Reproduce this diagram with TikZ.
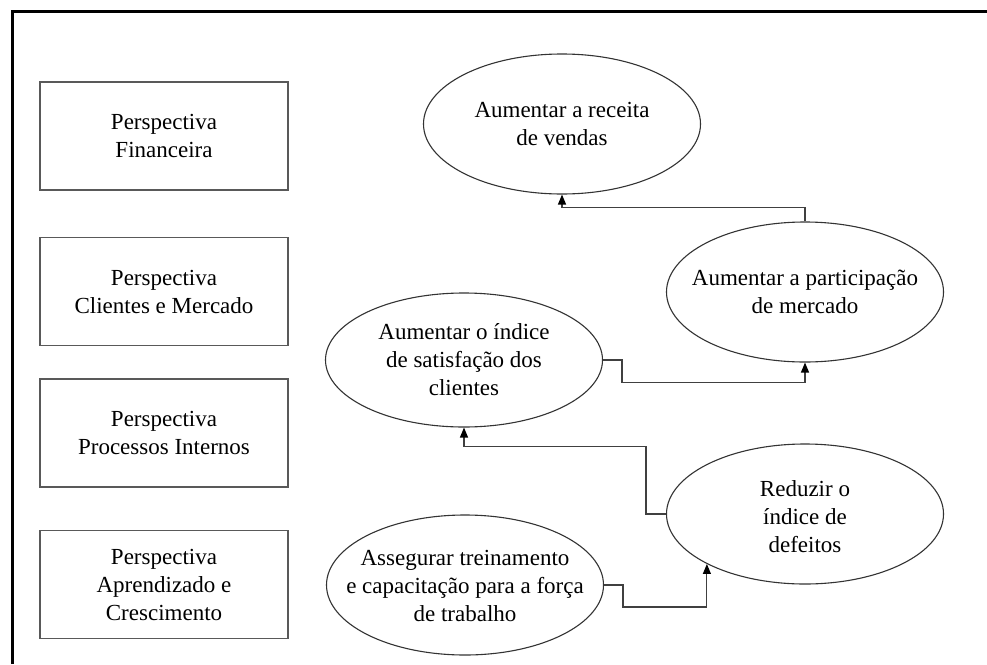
\documentclass[tikz,border=0pt]{standalone}
\usepackage{fontspec}
\setmainfont{Liberation Serif}
\usetikzlibrary{shapes.geometric,arrows.meta,calc}
\begin{document}
\begin{tikzpicture}[x=1pt,y=-1pt,
  persp/.style={draw=black!65, line width=1.2pt, minimum width=248pt, minimum height=108pt,
    inner sep=0pt, align=center, font=\fontsize{23}{28}\selectfont},
  goal/.style={draw=black!80, line width=1.1pt, ellipse, minimum width=277pt,
    minimum height=140pt, inner sep=0pt},
  goaltext/.style={align=center, inner sep=0pt, font=\fontsize{23}{28}\selectfont},
  link/.style={draw=black!75, line width=1.2pt, -{Triangle[length=10pt,width=8pt,color=black]}},
  frame/.style={draw=black, line width=3pt}]
\useasboundingbox (0,0) rectangle (987,664);
\fill[white] (0,0) rectangle (987,664);
\draw[frame] (12,664) -- (12,11) -- (987,11);

% perspectives
\node[persp] (P1) at (164,136) {Perspectiva\\Financeira};
\node[persp] (P2) at (164,291.5) {Perspectiva\\Clientes e Mercado};
\node[persp] (P3) at (164,433) {Perspectiva\\Processos Internos};
\node[persp] (P4) at (164,584.5) {Perspectiva\\Aprendizado e\\Crescimento};

% goals
\node[goal] (E1) at (562,124) {};
\node[goaltext] (T1) at (E1) {Aumentar a receita\\de vendas};
\node[goal] (E2) at (805,292) {};
\node[goaltext] (T2) at (E2) {Aumentar a participação\\de mercado};
\node[goal, minimum height=134pt] (E3) at (464,360) {};
\node[goaltext] (T3) at (E3) {Aumentar o índice\\de satisfação dos\\clientes};
\node[goal] (E4) at (805,514) {};
\node[goaltext] (T4) at (805,517) {Reduzir o\\índice de\\defeitos};
\node[goal] (E5) at (465,585) {};
\node[goaltext] (T5) at (465,586) {Assegurar treinamento\\e capacitação para a força\\de trabalho};

% links
\draw[link] (E2.north) -- ++(0,-14) -| (E1.south);
\draw[link] (E3.east) -- ++(19,0) |- ($(E2.south)+(0,20)$) -- (E2.south);
\draw[link] (E4.west) -- ++(-20,0) |- ($(E3.south)+(0,19)$) -- (E3.south);
\draw[link] (E5.east) -- ++(19,0) |- ($(E4.207)+(0,43)$) -- (E4.207);
\end{tikzpicture}
\end{document}
